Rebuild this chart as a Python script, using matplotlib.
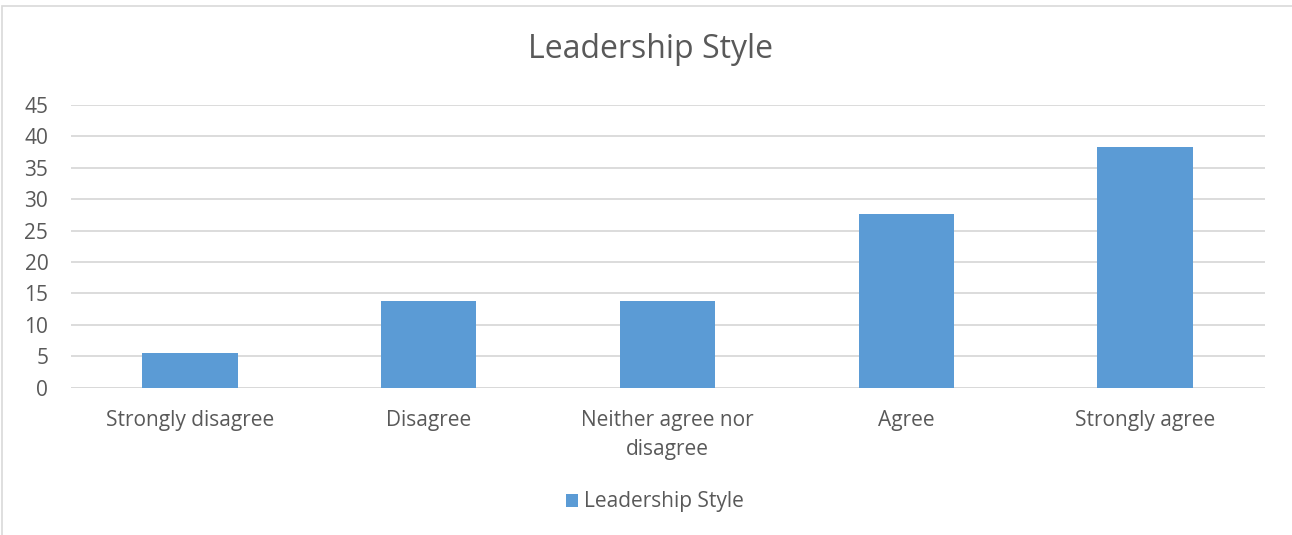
import matplotlib.pyplot as plt
from matplotlib.patches import Rectangle

categories = ['Strongly disagree', 'Disagree', 'Neither agree nor\ndisagree',
              'Agree', 'Strongly agree']
values = [5.5, 13.8, 13.8, 27.6, 38.3]
series_name = 'Leadership Style'

plt.rcParams['font.family'] = ['Open Sans', 'DejaVu Sans']
text_color = '#595959'
bar_color = '#5b9bd5'
grid_color = '#d9d9d9'

fig = plt.figure(figsize=(12.92, 5.35), dpi=100)
ax = fig.add_axes([70.5 / 1292, 1 - 387.7 / 535, 1194 / 1292, 282.7 / 535])

# chart frame (cropped on the right and bottom, as in the picture)
fig.patches.append(Rectangle((2 / 1292, -0.1), 1.2, 1 - 6 / 535 + 0.1,
                             transform=fig.transFigure, fill=False,
                             edgecolor=grid_color, linewidth=1.2))

x = range(len(categories))
ax.bar(x, values, width=0.4, color=bar_color, label=series_name, zorder=3)

ax.set_xlim(-0.5, len(categories) - 0.5)
ax.set_ylim(0, 45)
ax.set_yticks(range(0, 46, 5))
ax.set_xticks(list(x))
ax.set_xticklabels(categories, linespacing=1.5)

ax.yaxis.grid(True, color=grid_color, linewidth=1.3, zorder=0)
for s in ax.spines.values():
    s.set_visible(False)
ax.axhline(0, color=grid_color, linewidth=1.3, zorder=1)

ax.tick_params(axis='both', length=0, labelsize=15, colors=text_color)
ax.tick_params(axis='y', pad=16)
ax.tick_params(axis='x', pad=16)

fig.text(650 / 1292, 1 - 50 / 535, 'Leadership Style', ha='center', va='center',
         fontsize=23, color=text_color)

leg = fig.legend(loc='center', bbox_to_anchor=(655 / 1292, 1 - 502 / 535),
                 frameon=False, fontsize=15, handlelength=0.6, handleheight=0.6,
                 handletextpad=0.3)
for t in leg.get_texts():
    t.set_color(text_color)

fig.savefig('out.png', dpi=100)
